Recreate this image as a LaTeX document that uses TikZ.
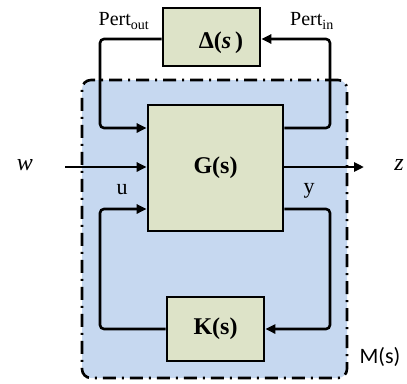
\documentclass[tikz,border=0pt]{standalone}
\usepackage{fontspec}
\setmainfont{Liberation Serif}
\newfontfamily\calfont{Carlito}
\usepackage{xcolor}
\usetikzlibrary{positioning, arrows.meta}
\definecolor{plantgreen}{HTML}{DDE3C8}
\definecolor{framblue}{HTML}{C6D8F0}

\tikzset{
  blockbox/.style={draw=black, fill=plantgreen, line width=2.6pt, inner sep=0pt,
                   font=\fontsize{24}{26}\selectfont\bfseries},
  wire/.style={draw=black, line width=2.6pt, rounded corners=4pt},
  sig/.style={wire, -{Triangle[length=10pt,width=9pt]}},
  siglabel/.style={font=\fontsize{20}{22}\selectfont, inner sep=0pt}
}

\begin{document}
\begin{tikzpicture}[x=1pt, y=-1pt]
    \useasboundingbox (0,0) rectangle (407,383);
    % interconnection frame M(s)
    \node[fill=framblue, draw=black, line width=2.6pt, rounded corners=9pt,
          dash pattern=on 13pt off 6pt on 2pt off 6pt,
          minimum width=265pt, minimum height=298pt, inner sep=0pt] (frame) at (214.5,229) {};
    \node[font=\calfont\fontsize{22}{24}\selectfont, inner sep=0pt] (mlab) at (380,357) {M(s)};

    % blocks
    \node[blockbox, minimum width=97pt, minimum height=58pt] (delta) at (211.5,37) {};
    \node[font=\fontsize{24}{26}\selectfont\bfseries, inner sep=0pt] (deltalab) at (221,43) {Δ(\textit{s}\,)};
    \node[blockbox, minimum width=135pt, minimum height=126pt] (G) at (215.5,168) {G(s)};
    \node[blockbox, minimum width=97pt, minimum height=64pt] (K) at (215.5,329) {K(s)};

    % corner points of the loops
    \coordinate (ptl) at (100,39);
    \coordinate (ptr) at (330,39);
    \coordinate (gtop) at (0,128);
    \coordinate (gbot) at (0,209);
    \coordinate (kl) at (100,329);
    \coordinate (kr) at (330,329);
    \coordinate (win) at (65,167);
    \coordinate (zout) at (364,167);

    % perturbation loop
    \draw[sig] (delta.west |- ptl) -- (ptl) |- (G.west |- gtop);
    \draw[sig] (G.east |- gtop) -| (ptr) -- (delta.east |- ptr);
    % exogenous signals
    \draw[sig] (win) -- (G.west |- win);
    \draw[sig] (G.east |- zout) -- (zout);
    % control loop
    \draw[sig] (K.west) -- (kl) |- (G.west |- gbot);
    \draw[sig] (G.east |- gbot) -| (kr) -- (K.east);

    % signal labels
    \node[siglabel] (pout) at (124,21) {Pert\textsubscript{out}};
    \node[siglabel] (pin) at (312,21) {Pert\textsubscript{in}};
    \node[siglabel, font=\fontsize{24}{26}\selectfont\itshape] (wlab) at (25,165) {w};
    \node[siglabel, font=\fontsize{24}{26}\selectfont\itshape] (zlab) at (399,165) {z};
    \node[siglabel, font=\fontsize{22}{24}\selectfont] (ulab) at (122,190) {u};
    \node[siglabel, font=\fontsize{22}{24}\selectfont] (ylab) at (309,191) {y};
\end{tikzpicture}
\end{document}
